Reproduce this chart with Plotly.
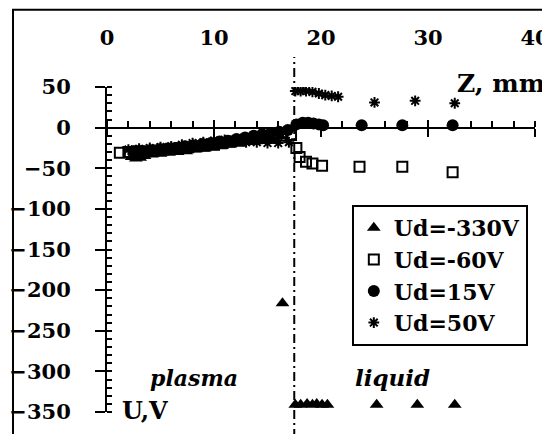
import plotly.graph_objects as go

# ---- data ----
x_tick_vals = [0, 10, 20, 30, 40]
x_tick_text = ["0", "10", "20", "30", "40"]
y_tick_vals = [50, 0, -50, -100, -150, -200, -250, -300, -350]

tri_x = [2.3, 2.7, 3.1, 3.5, 4.2, 5.0, 5.8, 6.6, 7.4, 8.2, 9.0, 9.8, 10.6, 11.4, 12.2, 13.0, 13.8,
         14.6, 15.4, 16.2, 16.4, 17.6, 18.1, 18.7, 19.2, 19.6, 20.1, 20.6, 25.2, 29.0, 32.5]
tri_y = [-36, -38, -37, -35, -33, -32, -31, -30, -29, -27, -26, -24, -23, -21, -19, -17, -16,
         -14, -13, -11, -216, -341, -341, -340, -341, -340, -341, -341, -341, -341, -341]

sq_x = [1.2, 2.0, 2.8, 3.6, 4.4, 5.2, 6.0, 6.8, 7.6, 8.4, 9.2, 10.0, 10.8, 11.6, 12.4, 13.2, 14.0,
        14.8, 15.6, 16.4, 17.2, 17.7, 18.0, 18.6, 19.2, 20.1, 23.6, 27.6, 32.3]
sq_y = [-31, -30, -29, -29, -28, -27, -26, -25, -24, -23, -22, -21, -19, -17, -16, -14, -13,
        -12, -11, -10, -9, -25, -36, -42, -44, -47, -48, -48, -55]

dot_x = [2.5, 3.3, 4.1, 4.9, 5.7, 6.5, 7.3, 8.1, 8.9, 9.7, 10.5, 11.3, 12.1, 12.9, 13.7, 14.5,
         15.3, 16.1, 16.9, 17.7, 18.3, 18.8, 19.3, 19.8, 20.2, 23.8, 27.6, 32.3]
dot_y = [-30, -29, -28, -27, -26, -25, -23, -22, -20, -19, -17, -16, -14, -12, -10, -8,
         -7, -5, -3, 4, 6, 6, 5, 4, 3, 3, 3, 3]

star_x = [2.0, 3.0, 4.0, 5.0, 6.0, 7.0, 8.0, 9.0, 10.0, 11.0, 12.0, 13.0, 14.0, 15.0, 16.0, 17.0,
          17.6, 18.1, 18.6, 19.2, 19.8, 20.4, 21.0, 21.6, 25.0, 28.8, 32.5]
star_y = [-27, -26, -25, -24, -23, -21, -19, -18, -16, -15, -17, -18, -18, -19, -19, -18,
          45, 45, 45, 44, 42, 40, 39, 38, 31, 33, 30]

boundary_z = 17.5

FONT = "DejaVu Serif"
BLACK = "black"

fig = go.Figure()
fig.add_trace(go.Scatter(x=tri_x, y=tri_y, mode="markers", name="Ud=-330V",
                         marker=dict(symbol="triangle-up", size=12, color=BLACK)))
fig.add_trace(go.Scatter(x=sq_x, y=sq_y, mode="markers", name="Ud=-60V",
                         marker=dict(symbol="square-open", size=10, color=BLACK,
                                     line=dict(width=2, color=BLACK))))
fig.add_trace(go.Scatter(x=dot_x, y=dot_y, mode="markers", name="Ud=15V",
                         marker=dict(symbol="circle", size=12, color=BLACK)))
fig.add_trace(go.Scatter(x=star_x, y=star_y, mode="markers", name="Ud=50V",
                         marker=dict(symbol="asterisk-open", size=9, color=BLACK,
                                     line=dict(width=2, color=BLACK))))
# helper traces so the overlay axes (drawn at U=0) exist
for ax in ["x2", "x3"]:
    fig.add_trace(go.Scatter(x=[None], y=[None], xaxis=ax, yaxis="y", showlegend=False,
                             hoverinfo="skip", mode="markers"))

tickfont = dict(family=FONT, size=21, color=BLACK, weight="bold")

fig.update_layout(
    width=550, height=434,
    margin=dict(l=99, r=23, t=79, b=30, autoexpand=False),
    paper_bgcolor="white", plot_bgcolor="white",
    xaxis=dict(range=[0, 40], side="top", showline=False, ticks="", showgrid=False,
               zeroline=False, tickvals=x_tick_vals, ticktext=x_tick_text, automargin=False,
               tickfont=tickfont, ticklabelstandoff=37),
    xaxis2=dict(range=[0, 40], overlaying="x", anchor="free", position=0.875, side="bottom",
                showline=True, linecolor=BLACK, linewidth=2, ticks="outside", ticklen=8,
                tickwidth=2, tickcolor=BLACK, tick0=0, dtick=10, showticklabels=False,
                showgrid=False, zeroline=False, automargin=False,
                minor=dict(ticks="inside", ticklen=6, tickwidth=1.5, tickcolor=BLACK,
                           dtick=2, showgrid=False)),
    xaxis3=dict(range=[0, 40], overlaying="x", anchor="free", position=0.875, side="bottom",
                showline=False, ticks="inside", ticklen=8, tickwidth=2, tickcolor=BLACK,
                tick0=0, dtick=10, showticklabels=False, showgrid=False, zeroline=False,
                automargin=False),
    yaxis=dict(range=[-350, 50], showline=True, linecolor=BLACK, linewidth=2,
               ticks="outside", ticklen=10, tickwidth=2, tickcolor=BLACK,
               tickvals=y_tick_vals, showgrid=False, zeroline=False, automargin=False,
               tickfont=tickfont, ticklabelstandoff=20,
               minor=dict(ticks="inside", ticklen=5, tickwidth=1.5, tickcolor=BLACK,
                          dtick=10, showgrid=False)),
    legend=dict(x=0.572, y=0.637, xanchor="left", yanchor="top",
                bordercolor=BLACK, borderwidth=2, bgcolor="white",
                font=dict(family=FONT, size=22, color=BLACK, weight="bold")),
    showlegend=True,
)

# image frame and the plasma/liquid boundary
fig.add_shape(type="rect", xref="paper", yref="paper", x0=-0.2196, x1=1.2, y0=-0.3, y1=1.238,
              line=dict(color=BLACK, width=2), layer="below")
fig.add_shape(type="line", xref="x", yref="paper", x0=boundary_z, x1=boundary_z,
              y0=-0.08, y1=1.092, line=dict(color=BLACK, width=2, dash="9px,4px,2px,4px"))

fig.add_annotation(text="Z, mm", xref="paper", yref="paper", x=0.812, y=1.012,
                   xanchor="left", yanchor="middle", showarrow=False,
                   font=dict(family=FONT, size=25, color=BLACK, weight="bold"))
fig.add_annotation(text="U,V", xref="paper", yref="paper", x=0.030, y=0.006,
                   xanchor="left", yanchor="middle", showarrow=False,
                   font=dict(family=FONT, size=24, color=BLACK, weight="bold"))
fig.add_annotation(text="plasma", xref="paper", yref="paper", x=0.096, y=0.105,
                   xanchor="left", yanchor="middle", showarrow=False,
                   font=dict(family=FONT, size=22, color=BLACK, weight="bold", style="italic"))
fig.add_annotation(text="liquid", xref="paper", yref="paper", x=0.575, y=0.105,
                   xanchor="left", yanchor="middle", showarrow=False,
                   font=dict(family=FONT, size=23, color=BLACK, weight="bold", style="italic"))

fig.write_html("out.html", config={"displayModeBar": False})
